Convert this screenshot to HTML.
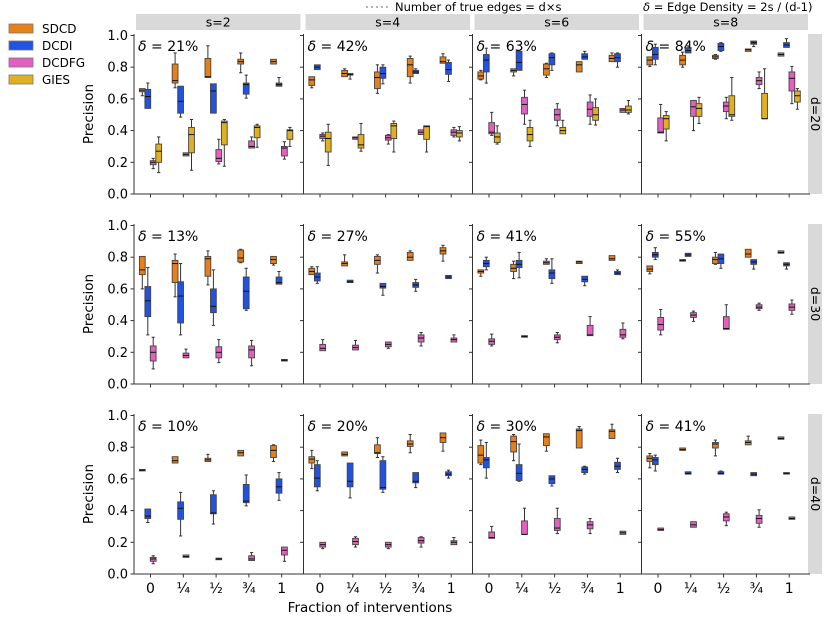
<!DOCTYPE html>
<html><head><meta charset="utf-8">
<style>
html,body{margin:0;padding:0;background:#fff;}
svg{display:block;font-family:"DejaVu Sans","Liberation Sans",sans-serif;}
</style></head>
<body>
<svg id="chart" width="830" height="618" viewBox="0 0 830 618" xmlns="http://www.w3.org/2000/svg">
  <g>
    <rect x="9" y="24" width="24" height="9" fill="#e8801a" stroke="#777" stroke-width="0.8"/>
    <text x="42" y="33" font-size="12">SDCD</text>
    <rect x="9" y="41" width="24" height="9" fill="#2152e0" stroke="#777" stroke-width="0.8"/>
    <text x="42" y="50" font-size="12">DCDI</text>
    <rect x="9" y="58" width="24" height="9" fill="#e35fc0" stroke="#777" stroke-width="0.8"/>
    <text x="42" y="67" font-size="12">DCDFG</text>
    <rect x="9" y="75" width="24" height="9" fill="#e0b020" stroke="#777" stroke-width="0.8"/>
    <text x="42" y="84" font-size="12">GIES</text>
  </g>
  <g>
    <line x1="366" y1="7" x2="390" y2="7" stroke="#888" stroke-width="1.2" stroke-dasharray="2,3"/>
    <text x="395" y="11" font-size="11.5">Number of true edges = d×s</text>
    <text x="643" y="11" font-size="11.5"><tspan font-style="italic">δ</tspan> = Edge Density = 2s / (d-1)</text>
  </g>
  <g id="plots"></g>
  <text x="370" y="612" font-size="13.5" text-anchor="middle">Fraction of interventions</text>
</svg>
<script>
const categories = ['0','¼','½','¾','1'];
const methods = ['SDCD','DCDI','DCDFG','GIES'];
const sValues = ['s=2','s=4','s=6','s=8'];
const dValues = ['d=20','d=30','d=40'];
const deltaLabels = [['21%','42%','63%','84%'],['13%','27%','41%','55%'],['10%','20%','30%','41%']];
const yTicks = [0,0.2,0.4,0.6,0.8,1.0];
const yTickLabels = ['0.0','0.2','0.4','0.6','0.8','1.0'];
// each entry: [whiskerLow, q1, median, q3, whiskerHigh]; panels ordered row-major
const sdcdStats = [
 [[0.62,0.645,0.655,0.665,0.665],[0.67,0.70,0.715,0.82,0.89],[0.735,0.735,0.74,0.855,0.935],[0.765,0.82,0.835,0.85,0.89],[0.82,0.82,0.835,0.85,0.85]],
 [[0.67,0.685,0.72,0.74,0.74],[0.74,0.74,0.76,0.78,0.79],[0.635,0.665,0.735,0.77,0.815],[0.70,0.74,0.815,0.855,0.87],[0.825,0.825,0.835,0.865,0.885]],
 [[0.72,0.725,0.745,0.77,0.78],[0.745,0.77,0.78,0.79,0.79],[0.735,0.75,0.79,0.82,0.825],[0.77,0.77,0.815,0.835,0.835],[0.835,0.835,0.855,0.875,0.89]],
 [[0.805,0.815,0.845,0.865,0.865],[0.8,0.815,0.845,0.875,0.895],[0.85,0.855,0.865,0.875,0.88],[0.9,0.9,0.91,0.915,0.915],[0.87,0.87,0.88,0.89,0.89]],
 [[0.6,0.69,0.72,0.805,0.805],[0.55,0.64,0.76,0.78,0.82],[0.625,0.68,0.79,0.805,0.84],[0.765,0.77,0.795,0.845,0.85],[0.75,0.76,0.785,0.805,0.805]],
 [[0.69,0.69,0.71,0.73,0.74],[0.745,0.745,0.76,0.77,0.815],[0.7,0.755,0.78,0.805,0.815],[0.78,0.78,0.8,0.83,0.84],[0.775,0.82,0.84,0.86,0.875]],
 [[0.68,0.7,0.71,0.72,0.72],[0.665,0.71,0.73,0.755,0.775],[0.755,0.755,0.765,0.775,0.79],[0.76,0.76,0.77,0.775,0.775],[0.78,0.78,0.79,0.81,0.81]],
 [[0.695,0.71,0.725,0.745,0.745],[0.775,0.775,0.78,0.785,0.785],[0.755,0.76,0.785,0.8,0.83],[0.8,0.8,0.82,0.85,0.85],[0.825,0.825,0.83,0.84,0.84]],
 [[0.655,0.652,0.655,0.658,0.655],[0.7,0.7,0.715,0.74,0.74],[0.71,0.71,0.72,0.73,0.755],[0.745,0.745,0.765,0.78,0.78],[0.71,0.735,0.78,0.81,0.815]],
 [[0.665,0.7,0.725,0.74,0.78],[0.745,0.745,0.755,0.77,0.77],[0.735,0.76,0.765,0.815,0.86],[0.765,0.805,0.82,0.84,0.88],[0.775,0.83,0.86,0.89,0.89]],
 [[0.69,0.7,0.75,0.81,0.845],[0.715,0.77,0.835,0.87,0.88],[0.775,0.81,0.865,0.885,0.885],[0.795,0.795,0.905,0.915,0.93],[0.855,0.855,0.9,0.91,0.945]],
 [[0.67,0.71,0.73,0.745,0.76],[0.78,0.78,0.785,0.795,0.795],[0.745,0.795,0.82,0.83,0.845],[0.815,0.815,0.83,0.84,0.87],[0.85,0.85,0.855,0.865,0.865]]
];
const dcdiStats = [
 [[0.54,0.54,0.615,0.66,0.70],[0.485,0.51,0.585,0.68,0.68],[0.51,0.51,0.65,0.695,0.695],[0.605,0.63,0.69,0.70,0.75],[0.68,0.68,0.69,0.70,0.735]],
 [[0.785,0.785,0.8,0.815,0.815],[0.725,0.75,0.755,0.76,0.76],[0.695,0.73,0.76,0.8,0.815],[0.76,0.76,0.77,0.78,0.79],[0.71,0.755,0.785,0.83,0.845]],
 [[0.70,0.77,0.845,0.88,0.92],[0.78,0.78,0.83,0.9,0.9],[0.78,0.815,0.86,0.885,0.89],[0.85,0.85,0.865,0.885,0.9],[0.80,0.835,0.86,0.885,0.89]],
 [[0.815,0.85,0.88,0.925,0.945],[0.89,0.89,0.905,0.92,0.935],[0.9,0.905,0.93,0.95,0.955],[0.93,0.945,0.955,0.965,0.965],[0.925,0.925,0.94,0.955,0.98]],
 [[0.31,0.425,0.525,0.615,0.735],[0.31,0.385,0.555,0.645,0.76],[0.37,0.45,0.49,0.6,0.72],[0.465,0.475,0.585,0.675,0.73],[0.63,0.63,0.64,0.675,0.71]],
 [[0.635,0.65,0.675,0.7,0.74],[0.64,0.64,0.645,0.655,0.655],[0.56,0.605,0.615,0.635,0.635],[0.585,0.61,0.625,0.64,0.66],[0.665,0.665,0.675,0.685,0.685]],
 [[0.72,0.74,0.76,0.78,0.8],[0.67,0.735,0.755,0.78,0.83],[0.635,0.665,0.7,0.72,0.79],[0.62,0.645,0.66,0.68,0.68],[0.69,0.69,0.7,0.71,0.72]],
 [[0.785,0.8,0.815,0.83,0.86],[0.805,0.805,0.815,0.825,0.825],[0.73,0.76,0.79,0.82,0.82],[0.725,0.755,0.77,0.785,0.785],[0.725,0.745,0.755,0.765,0.765]],
 [[0.325,0.35,0.365,0.41,0.41],[0.24,0.345,0.415,0.455,0.515],[0.315,0.38,0.385,0.5,0.525],[0.43,0.45,0.46,0.565,0.625],[0.465,0.51,0.55,0.6,0.64]],
 [[0.525,0.55,0.605,0.69,0.715],[0.48,0.55,0.585,0.7,0.7],[0.515,0.535,0.545,0.715,0.74],[0.545,0.575,0.585,0.64,0.64],[0.605,0.62,0.63,0.645,0.655]],
 [[0.605,0.67,0.72,0.735,0.83],[0.585,0.59,0.635,0.69,0.82],[0.555,0.57,0.6,0.62,0.62],[0.63,0.64,0.66,0.675,0.68],[0.64,0.66,0.68,0.705,0.73]],
 [[0.65,0.69,0.72,0.735,0.75],[0.63,0.63,0.635,0.645,0.645],[0.63,0.63,0.635,0.645,0.65],[0.62,0.62,0.63,0.64,0.64],[0.635,0.632,0.635,0.638,0.635]]
];
const dcdfgStats = [
 [[0.16,0.185,0.2,0.21,0.225],[0.24,0.24,0.25,0.26,0.26],[0.19,0.205,0.225,0.28,0.345],[0.29,0.29,0.3,0.335,0.36],[0.22,0.24,0.29,0.3,0.33]],
 [[0.335,0.35,0.365,0.375,0.385],[0.345,0.345,0.355,0.36,0.36],[0.315,0.34,0.355,0.37,0.375],[0.375,0.375,0.39,0.405,0.405],[0.36,0.37,0.39,0.405,0.42]],
 [[0.37,0.38,0.39,0.45,0.515],[0.44,0.505,0.565,0.61,0.655],[0.43,0.465,0.5,0.535,0.57],[0.44,0.49,0.535,0.58,0.625],[0.515,0.515,0.53,0.54,0.54]],
 [[0.385,0.385,0.39,0.48,0.565],[0.4,0.49,0.55,0.59,0.59],[0.475,0.52,0.555,0.58,0.61],[0.665,0.69,0.715,0.735,0.77],[0.57,0.65,0.73,0.77,0.805]],
 [[0.095,0.145,0.2,0.24,0.295],[0.165,0.165,0.18,0.195,0.22],[0.135,0.165,0.2,0.235,0.28],[0.115,0.165,0.215,0.24,0.275],[0.145,0.145,0.15,0.155,0.155]],
 [[0.21,0.21,0.225,0.25,0.28],[0.215,0.215,0.23,0.245,0.275],[0.225,0.235,0.25,0.265,0.265],[0.24,0.265,0.29,0.31,0.325],[0.265,0.265,0.28,0.29,0.31]],
 [[0.24,0.25,0.27,0.285,0.315],[0.295,0.295,0.3,0.305,0.305],[0.26,0.28,0.295,0.31,0.325],[0.305,0.305,0.31,0.37,0.425],[0.285,0.295,0.31,0.345,0.385]],
 [[0.31,0.34,0.375,0.42,0.47],[0.395,0.42,0.435,0.45,0.46],[0.345,0.345,0.35,0.425,0.5],[0.465,0.475,0.485,0.5,0.51],[0.44,0.465,0.485,0.505,0.53]],
 [[0.065,0.08,0.095,0.105,0.115],[0.105,0.105,0.11,0.12,0.12],[0.09,0.09,0.095,0.1,0.1],[0.085,0.085,0.095,0.115,0.135],[0.08,0.12,0.15,0.17,0.17]],
 [[0.16,0.17,0.185,0.2,0.2],[0.17,0.185,0.205,0.225,0.235],[0.16,0.17,0.185,0.2,0.2],[0.17,0.195,0.21,0.23,0.235],[0.185,0.185,0.2,0.21,0.23]],
 [[0.225,0.225,0.23,0.265,0.3],[0.25,0.25,0.25,0.335,0.415],[0.255,0.275,0.29,0.35,0.415],[0.255,0.285,0.31,0.33,0.35],[0.25,0.25,0.26,0.27,0.27]],
 [[0.275,0.275,0.28,0.29,0.29],[0.295,0.295,0.31,0.33,0.33],[0.305,0.335,0.36,0.38,0.39],[0.295,0.32,0.35,0.37,0.405],[0.345,0.345,0.35,0.36,0.36]]
];
const giesStats = [
 [[0.135,0.2,0.27,0.315,0.36],[0.15,0.26,0.375,0.42,0.47],[0.175,0.31,0.45,0.46,0.47],[0.295,0.355,0.42,0.43,0.44],[0.3,0.345,0.4,0.405,0.42]],
 [[0.18,0.265,0.35,0.39,0.44],[0.27,0.29,0.31,0.375,0.445],[0.265,0.35,0.43,0.445,0.46],[0.265,0.345,0.425,0.43,0.43],[0.335,0.36,0.385,0.4,0.425]],
 [[0.315,0.325,0.36,0.385,0.43],[0.3,0.335,0.375,0.42,0.465],[0.38,0.38,0.4,0.42,0.465],[0.435,0.465,0.5,0.545,0.6],[0.505,0.515,0.53,0.555,0.59]],
 [[0.335,0.41,0.475,0.495,0.52],[0.445,0.49,0.54,0.57,0.61],[0.465,0.49,0.5,0.62,0.735],[0.475,0.475,0.475,0.635,0.79],[0.535,0.58,0.62,0.65,0.665]],
 null,null,null,null,null,null,null,null
];

const allStats = [sdcdStats, dcdiStats, dcdfgStats, giesStats];
const colors = ['#e8801a','#2152e0','#e35fc0','#e0b020'];
const NS = 'http://www.w3.org/2000/svg';
const root = document.getElementById('plots');
const panelLefts = [134, 303.5, 472.5, 641.5];
const panelW = 168.5;
const rowBottoms = [194, 384, 574];
const unitH = 158.5;
const offsets = [-8.2, -2.7, 2.7, 8.2];
const boxW = 5.8;

function mk(tag, attrs, parent) {
  const el = document.createElementNS(NS, tag);
  for (const k in attrs) el.setAttribute(k, attrs[k]);
  parent.appendChild(el);
  return el;
}
function yScale(row, v) { return rowBottoms[row] - v * unitH; }
function xScale(col, i) { return panelLefts[col] + 16.5 + 32.8 * i; }

// column strips
sValues.forEach((s, c) => {
  const g = mk('g', {}, root);
  
  
  mk('rect', {x: panelLefts[c] + 2, y: 14, width: panelW - 4, height: 16, fill: '#d9d9d9'}, g);
  const t = mk('text', {x: panelLefts[c] + panelW / 2, y: 26.5, 'font-size': 12.5, 'text-anchor': 'middle'}, g);
  t.textContent = s;
});
// row strips
dValues.forEach((d, r) => {
  const g = mk('g', {}, root);
  
  
  mk('rect', {x: 808, y: rowBottoms[r] - 160, width: 14, height: 160, fill: '#d9d9d9'}, g);
  const cy = rowBottoms[r] - 80;
  const t = mk('text', {x: 0, y: 0, 'font-size': 12.5, 'text-anchor': 'middle', transform: `translate(811,${cy}) rotate(90)`}, g);
  t.textContent = d;
});

for (let r = 0; r < 3; r++) {
  // y axis label
  const yl = mk('text', {x: 0, y: 0, 'font-size': 13.5, 'text-anchor': 'middle', transform: `translate(93,${rowBottoms[r] - 80}) rotate(-90)`}, root);
  
  
  yl.textContent = 'Precision';
  for (let c = 0; c < 4; c++) {
    const p = r * 4 + c;
    const g = mk('g', {}, root);
    
    
    const L = panelLefts[c], B = rowBottoms[r], T = B - 160;
    // spines
    mk('line', {x1: L, y1: T, x2: L, y2: B, stroke: '#333', 'stroke-width': 1}, g);
    mk('line', {x1: L, y1: B, x2: L + panelW, y2: B, stroke: '#333', 'stroke-width': 1}, g);
    // y ticks
    yTicks.forEach((v, k) => {
      const y = yScale(r, v);
      mk('line', {x1: L - 3.5, y1: y, x2: L, y2: y, stroke: '#333', 'stroke-width': 1}, g);
      if (c === 0) {
        const t = mk('text', {x: L - 6, y: y + 4.5, 'font-size': 13, 'text-anchor': 'end'}, g);
        
        
        t.textContent = yTickLabels[k];
      }
    });
    // x ticks
    categories.forEach((cat, i) => {
      const x = xScale(c, i);
      mk('line', {x1: x, y1: B, x2: x, y2: B + 3.5, stroke: '#333', 'stroke-width': 1}, g);
      if (r === 2) {
        const t = mk('text', {x: x, y: B + 19, 'font-size': 14, 'text-anchor': 'middle'}, g);
        
        
        t.textContent = cat;
      }
    });
    // delta label
    const dt = mk('text', {x: L + 4, y: T + 17, 'font-size': 14}, g);
    
    
    dt.innerHTML = '<tspan font-style="italic">δ</tspan> = ' + deltaLabels[r][c];
    // boxes
    allStats.forEach((stats, m) => {
      const ps = stats[p];
      if (!ps) return;
      ps.forEach((st, i) => {
        const cx = xScale(c, i) + offsets[m];
        const bg = mk('g', {}, g);
        
        
        const [lo, q1, med, q3, hi] = st;
        const yl2 = yScale(r, lo), y1 = yScale(r, q1), ym = yScale(r, med), y3 = yScale(r, q3), yh = yScale(r, hi);
        if (hi > q3) {
          mk('line', {x1: cx, y1: yh, x2: cx, y2: y3, stroke: '#333', 'stroke-width': 1}, bg);
          mk('line', {x1: cx - 1.6, y1: yh, x2: cx + 1.6, y2: yh, stroke: '#333', 'stroke-width': 1}, bg);
        }
        if (lo < q1) {
          mk('line', {x1: cx, y1: y1, x2: cx, y2: yl2, stroke: '#333', 'stroke-width': 1}, bg);
          mk('line', {x1: cx - 1.6, y1: yl2, x2: cx + 1.6, y2: yl2, stroke: '#333', 'stroke-width': 1}, bg);
        }
        const h = Math.max(y1 - y3, 1.5);
        mk('rect', {x: cx - boxW / 2, y: y3 - (h - (y1 - y3)) / 2, width: boxW, height: h, fill: colors[m], stroke: '#444', 'stroke-width': 0.9}, bg);
        mk('line', {x1: cx - boxW / 2, y1: ym, x2: cx + boxW / 2, y2: ym, stroke: '#111', 'stroke-width': 1}, bg);
      });
    });
  }
}
</script>
</body></html>
